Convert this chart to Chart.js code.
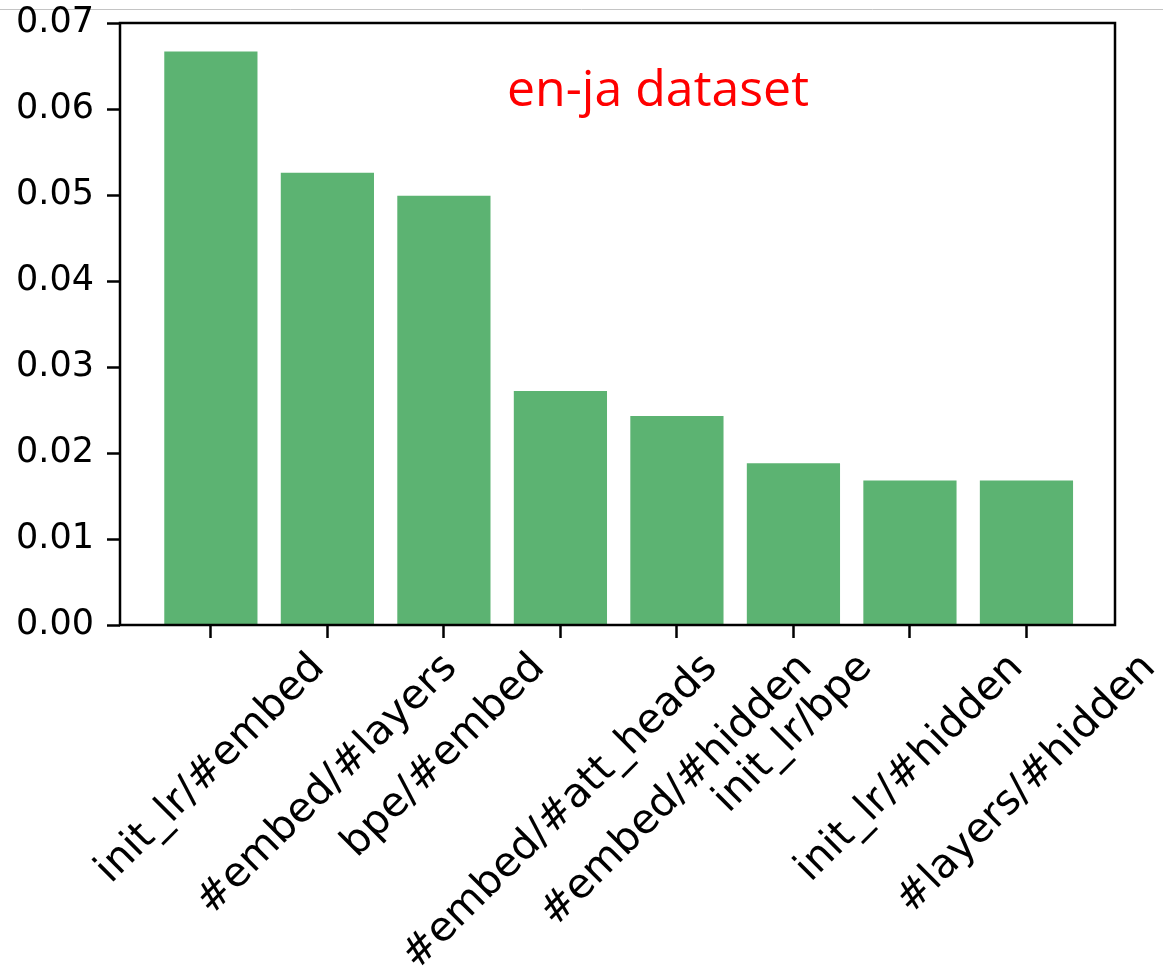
<!DOCTYPE html>
<html>
<head>
<meta charset="utf-8">
<script src="https://cdn.jsdelivr.net/npm/chart.js@4.4.1/dist/chart.umd.min.js"></script>
<style>
  html, body { margin: 0; padding: 0; background: #fff; }
  canvas { display: block; }
</style>
</head>
<body>
<canvas id="chart" width="1163" height="978"></canvas>
<script>
// Hyperparameter pair importance, en-ja
const categories = ['init_lr/#embed', '#embed/#layers', 'bpe/#embed', '#embed/#att_heads',
                    '#embed/#hidden', 'init_lr/bpe', 'init_lr/#hidden', '#layers/#hidden'];
const importance = [0.0667, 0.0526, 0.0499, 0.0272, 0.0243, 0.0188, 0.0168, 0.0168];
const yTicks = [0.00, 0.01, 0.02, 0.03, 0.04, 0.05, 0.06, 0.07];
const panelTitle = 'en-ja dataset';

const FONT = "'DejaVu Sans', sans-serif";
const TICK_SIZE = 35;
const XLABEL_SIZE = 41;
const BAR_GREEN = '#5cb372';

// white page + thin grey rule along the top
const pageBackground = {
    id: 'pageBackground',
    beforeDraw: function(chart) {
        const ctx = chart.ctx;
        ctx.save();
        ctx.fillStyle = '#fff';
        ctx.fillRect(0, 0, chart.width, chart.height);
        ctx.strokeStyle = '#c4c4c4';
        ctx.lineWidth = 1;
        ctx.beginPath();
        ctx.moveTo(0, 9.5);
        ctx.lineTo(chart.width, 9.5);
        ctx.stroke();
        ctx.restore();
    }
};

// closed box around the plot area
const axesFrame = {
    id: 'axesFrame',
    afterDatasetsDraw: function(chart) {
        const a = chart.chartArea;
        const ctx = chart.ctx;
        ctx.save();
        ctx.strokeStyle = '#000';
        ctx.lineWidth = 2.5;
        ctx.strokeRect(a.left, a.top, a.right - a.left, a.bottom - a.top);
        ctx.restore();
    }
};

// x labels rotated 45deg, centred under each tick
const rotatedLabels = {
    id: 'rotatedLabels',
    afterDraw: function(chart) {
        const ctx = chart.ctx;
        const xScale = chart.scales.x;
        const top = chart.chartArea.bottom + 13 + 9;
        const s = Math.SQRT1_2;
        ctx.save();
        ctx.font = XLABEL_SIZE + 'px ' + FONT;
        ctx.fillStyle = '#000';
        ctx.textAlign = 'center';
        ctx.textBaseline = 'middle';
        categories.forEach(function(label, i) {
            const w = ctx.measureText(label).width;
            const h = XLABEL_SIZE * 1.0;
            const box = (w + h) * s;
            const cx = xScale.getPixelForValue(i);
            ctx.save();
            ctx.translate(cx, top + box / 2);
            ctx.rotate(-Math.PI / 4);
            ctx.fillText(label, 0, 0);
            ctx.restore();
        });
        ctx.restore();
    }
};

const titleText = {
    id: 'titleText',
    afterDraw: function(chart) {
        const ctx = chart.ctx;
        ctx.save();
        ctx.font = "50px 'Open Sans', sans-serif";
        ctx.fillStyle = '#ff0000';
        ctx.textAlign = 'center';
        ctx.textBaseline = 'alphabetic';
        ctx.fillText(panelTitle, 658, 106);
        ctx.restore();
    }
};

new Chart(document.getElementById('chart'), {
    type: 'bar',
    data: {
        datasets: [{
            data: importance.map(function(v, i) { return { x: i, y: v }; }),
            backgroundColor: BAR_GREEN,
            borderWidth: 0,
            barPercentage: 0.8,
            categoryPercentage: 1.0
        }]
    },
    options: {
        responsive: false,
        animation: false,
        layout: { padding: { top: 23, right: 48, left: 0, bottom: 0 } },
        plugins: {
            legend: { display: false },
            tooltip: { enabled: false }
        },
        scales: {
            x: {
                type: 'linear',
                offset: false,
                min: -0.78,
                max: 7.76,
                afterBuildTicks: function(scale) {
                    scale.ticks = categories.map(function(_, i) { return { value: i }; });
                },
                afterFit: function(scale) {
                    scale.height = 978 - 625;
                    scale.paddingLeft = 0;
                    scale.paddingRight = 0;
                },
                border: { display: false },
                grid: {
                    offset: false,
                    drawOnChartArea: false,
                    drawTicks: true,
                    tickLength: 13,
                    tickWidth: 2.5,
                    tickColor: '#000'
                },
                ticks: { display: false }
            },
            y: {
                min: 0,
                max: 0.07,
                afterBuildTicks: function(scale) {
                    scale.ticks = yTicks.map(function(v) { return { value: v }; });
                },
                afterFit: function(scale) {
                    scale.width = 120;
                    scale.paddingTop = 0;
                    scale.paddingBottom = 0;
                },
                border: { display: false },
                grid: {
                    drawOnChartArea: false,
                    drawTicks: true,
                    tickLength: 13,
                    tickWidth: 2.5,
                    tickColor: '#000'
                },
                ticks: {
                    color: '#000',
                    padding: 13,
                    font: { family: FONT, size: TICK_SIZE },
                    callback: function(v) { return v.toFixed(2); }
                }
            }
        }
    },
    plugins: [pageBackground, axesFrame, rotatedLabels, titleText]
});
</script>
</body>
</html>
